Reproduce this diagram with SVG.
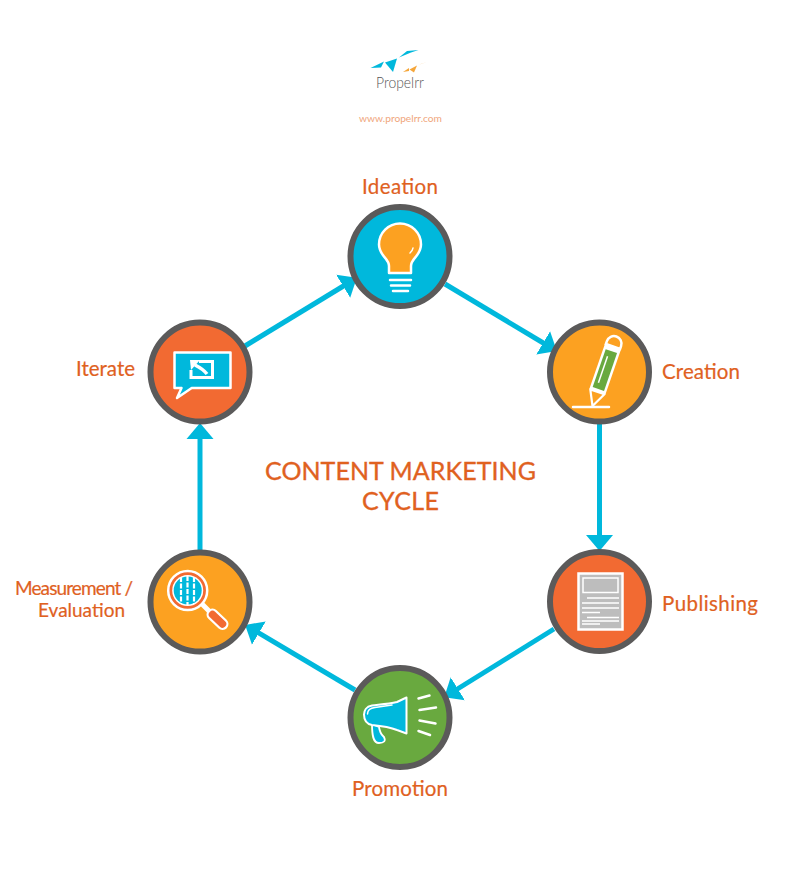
<svg xmlns="http://www.w3.org/2000/svg" width="800" height="891" viewBox="0 0 800 891">
<style>
.lbl{font-family:"Lato","Liberation Sans",sans-serif;font-size:20.5px;fill:#e0611f;stroke:#e0611f;stroke-width:.2}
.sm{font-size:19px}
.ttl{font-family:"Lato","Liberation Sans",sans-serif;font-size:25px;fill:#e0611f;stroke:#e0611f;stroke-width:.35}
.ring{stroke:#5b5a5a;stroke-width:6}
.w{fill:none;stroke:#fff;stroke-width:2.5;stroke-linecap:round;stroke-linejoin:round}
.conn{fill:none;stroke:#00b8dc;stroke-width:5}
.blue{fill:#00b8dc}.org{fill:#fca121}.red{fill:#f26a32}.grn{fill:#69a93f}
</style>
<defs>
<marker id="arr" markerUnits="userSpaceOnUse" markerWidth="30" markerHeight="30" refX="8" refY="15" orient="auto">
<path d="M0 1.500L16 15L0 28.500Z" fill="#00b8dc"/>
</marker>
</defs>
<rect width="800" height="891" fill="#fff"/>
<g id="logo">
<path d="M399 57.500L407 51L418.500 50L411 52.500Z" fill="#00b8dc"/>
<path d="M370.500 68L384 61.500L381 67.500Z" fill="#00b8dc"/>
<path d="M385 62.500L397 58.500L393 72Z" fill="#00b8dc"/>
<path d="M403 72L409 68L409 71Z" fill="#f5a63a"/>
<path d="M409.500 69.500L417 65.500L414 72.500Z" fill="#f5a63a"/>
<path d="M419 64.500L427 62L421 64Z" fill="#f5a63a"/>
<text x="376" y="88" textLength="48" lengthAdjust="spacingAndGlyphs" font-family="Lato,'Liberation Sans',sans-serif" font-weight="300" font-size="16.500" fill="#555">Propelrr</text>
<text x="359" y="122" textLength="83" lengthAdjust="spacingAndGlyphs" font-family="Lato,'Liberation Sans',sans-serif" font-size="10" fill="#f0a67c">www.propelrr.com</text>
</g>
<g id="connectors">
<line class="conn" x1="445" y1="284" x2="550" y2="347" marker-end="url(#arr)"/>
<line class="conn" x1="599.500" y1="424" x2="599.500" y2="543" marker-end="url(#arr)"/>
<line class="conn" x1="554" y1="629" x2="451" y2="693" marker-end="url(#arr)"/>
<line class="conn" x1="355" y1="690" x2="252" y2="629" marker-end="url(#arr)"/>
<line class="conn" x1="200" y1="550" x2="200" y2="431" marker-end="url(#arr)"/>
<line class="conn" x1="245" y1="346" x2="350" y2="282" marker-end="url(#arr)"/>
</g>
<g id="title">
<text class="ttl" x="265" y="480" textLength="271">CONTENT MARKETING</text>
<text class="ttl" x="362" y="510" textLength="77">CYCLE</text>
</g>
<g id="ideation">
<circle class="ring blue" cx="400" cy="256.500" r="49.500"/>
<path d="M389 273V266C389 258 379 256 379 244.500A21 21 0 1 1 421 244.500C421 256 411 258 411 266V273Z" fill="#fca121" stroke="#fff" stroke-width="2.500" stroke-linejoin="round"/>
<path class="w" style="stroke-width:1.500" d="M413 248Q412.500 251 410 253"/>
<path class="w" d="M390 280H411M391 285.500H410M393 291H408"/>
<text class="lbl" x="362" y="194" textLength="76">Ideation</text>
</g>
<g id="creation">
<circle class="ring org" cx="599.500" cy="372" r="49.500"/>
<path class="w" d="M573 407H609"/>
<g transform="translate(592.500,406) rotate(19)">
<path d="M0 0L-7.500 -15H7.500Z" fill="#fca121" stroke="#fff" stroke-width="2.200" stroke-linejoin="round"/>
<rect x="-8.500" y="-63" width="17" height="48" fill="#fff"/>
<rect x="-6" y="-58" width="12" height="40" fill="#69a93f"/>
<path d="M-2 -52V-24" stroke="#fff" stroke-width="1.500"/>
<path d="M-7.500 -63V-66A7.500 7.500 0 0 1 7.500 -66V-63Z" fill="#fca121" stroke="#fff" stroke-width="2.500"/>
</g>
<text class="lbl" x="662" y="379" textLength="78">Creation</text>
</g>
<g id="publishing">
<circle class="ring red" cx="599.500" cy="601.500" r="49.500"/>
<rect x="578.500" y="573.500" width="44" height="56" fill="#bdbdbd" stroke="#fff" stroke-width="2.500"/>
<rect x="583" y="578" width="35" height="14.500" fill="#bdbdbd" stroke="#fff" stroke-width="1.500"/>
<path d="M587 598H619M582 603H619M582 608H619M582 612.500H600M587 617.500H619M582 621H619M582 624H600" stroke="#fff" stroke-width="1.700" fill="none"/>
<text class="lbl" x="662" y="611" textLength="96">Publishing</text>
</g>
<g id="promotion">
<circle class="ring grn" cx="400" cy="717.500" r="49.500"/>
<path d="M372 724C372 735 373 743 379 743C384 743 386 741 384 737C382 735 380 734 379 727Z" fill="#00b8dc" stroke="#fff" stroke-width="1.800" stroke-linejoin="round"/>
<path d="M406.500 697.500L397 702C388 704 380 704.500 372 705.500C366 706.500 364 711 364 714.500C364 720 367 724 372 725C382 726 392 728 397 730L406.500 733.500Z" fill="#00b8dc" stroke="#fff" stroke-width="2" stroke-linejoin="round"/>
<path class="w" style="stroke-width:1.500" d="M367.500 714C367.500 709 371 708 375 707.500L392 705"/>
<path class="w" d="M418.500 698.500L429.500 695.500M419.500 710L436 707.500M419.500 720.500L435.500 723.500M418.500 731L430 735"/>
<text class="lbl" x="352" y="796" textLength="96">Promotion</text>
</g>
<g id="measurement">
<circle class="ring org" cx="200" cy="602" r="49.500"/>
<path d="M203 605L214 616" stroke="#fff" stroke-width="5" stroke-linecap="round"/>
<path d="M212.500 614.500L222.500 624" stroke="#fff" stroke-width="12" stroke-linecap="round"/>
<path d="M212.500 614.500L222.500 624" stroke="#f26a32" stroke-width="7.500" stroke-linecap="round"/>
<circle cx="187.700" cy="590.500" r="19.500" fill="#f26a32" stroke="#fff" stroke-width="2.500"/>
<circle cx="187.700" cy="590.500" r="15.500" fill="#fff"/>
<circle cx="187.700" cy="590.500" r="14" fill="#00b8dc"/>
<path d="M181 577V604M187.500 576V605M194 577V604" stroke="#fff" stroke-width="2.200" stroke-dasharray="5 1.500" fill="none"/>
<text class="lbl sm" x="15" y="595" textLength="118">Measurement /</text>
<text class="lbl sm" x="38" y="617" textLength="87">Evaluation</text>
</g>
<g id="iterate">
<circle class="ring red" cx="200" cy="372" r="49.500"/>
<path d="M174.500 352.500H230.500V388H191.700L177 398L181.500 388H174.500Z" fill="#00b8dc" stroke="#fff" stroke-width="2.500" stroke-linejoin="round"/>
<path d="M199 361.500H212.500V377.500H191V370" fill="none" stroke="#fff" stroke-width="3"/>
<path d="M207 374C203 369 199 367 195 365" fill="none" stroke="#fff" stroke-width="3.500"/>
<path d="M190 360L200 360L191 370Z" fill="#fff"/>
<text class="lbl" x="76" y="376" textLength="59">Iterate</text>
</g>
</svg>
